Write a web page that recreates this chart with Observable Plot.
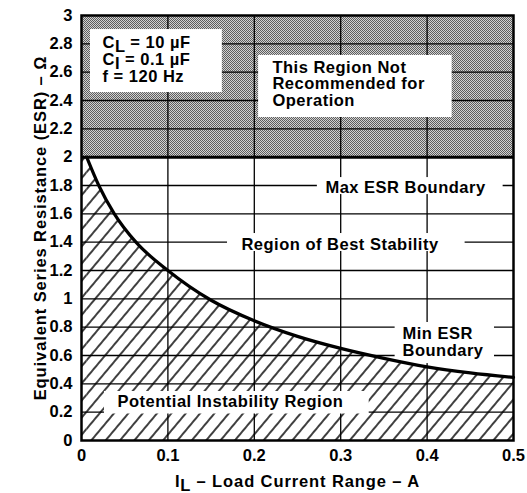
<!DOCTYPE html>
<html><head><meta charset="utf-8">
<script src="https://cdn.jsdelivr.net/npm/d3@7"></script>
<script src="https://cdn.jsdelivr.net/npm/@observablehq/plot@0.6"></script>
<style>
body{margin:0;background:#fff}
#chart svg{display:block}
</style>
</head><body><div id="chart"></div>
<script>
// ---- data ----
const loadCurrent = [0, 0.006, 0.02, 0.038, 0.063, 0.1, 0.15, 0.2, 0.25, 0.3, 0.35, 0.4, 0.45, 0.5];
const minEsr      = [2.0, 2.0, 1.8, 1.6, 1.4, 1.2, 0.99, 0.845, 0.735, 0.65, 0.58, 0.52, 0.477, 0.445];
const maxEsr = 2;
const esrTop = 3;
const xTicks = [0, 0.1, 0.2, 0.3, 0.4, 0.5];
const yTicks = [0, 0.2, 0.4, 0.6, 0.8, 1, 1.2, 1.4, 1.6, 1.8, 2, 2.2, 2.4, 2.6, 2.8, 3];
const conditions = ["C_L = 10 µF", "C_I = 0.1 µF", "f = 120 Hz"];
const notRecommended = ["This Region Not", "Recommended for", "Operation"];
const xTitle = "I_L – Load Current Range – A";
const yTitle = "Equivalent Series Resistance (ESR) – Ω";

// ---- annotation layout (data units) ----
const boxes = [
  {x1: 0.0104, x2: 0.163, y1: 2.456, y2: 2.901},   // conditions
  {x1: 0.205, x2: 0.429, y1: 2.280, y2: 2.718},    // not recommended
  {x1: 0.273, x2: 0.488, y1: 1.736, y2: 1.856},    // max esr
  {x1: 0.169, x2: 0.444, y1: 1.334, y2: 1.461},    // best stability
  {x1: 0.363, x2: 0.478, y1: 0.543, y2: 0.833},    // min esr
  {x1: 0.0266, x2: 0.333, y1: 0.187, y2: 0.346}    // potential instability
];
const labels = [
  {x: 0.0243, y: 2.774, t: conditions[0], a: "start"},
  {x: 0.0243, y: 2.654, t: conditions[1], a: "start"},
  {x: 0.0243, y: 2.534, t: conditions[2], a: "start"},
  {x: 0.221, y: 2.597, t: notRecommended[0], a: "start"},
  {x: 0.221, y: 2.481, t: notRecommended[1], a: "start"},
  {x: 0.221, y: 2.364, t: notRecommended[2], a: "start"},
  {x: 0.375, y: 1.7505, t: "Max ESR Boundary", a: "middle"},
  {x: 0.2992, y: 1.348, t: "Region of Best Stability", a: "middle"},
  {x: 0.3715, y: 0.72, t: "Min ESR", a: "start"},
  {x: 0.3715, y: 0.593, t: "Boundary", a: "start"},
  {x: 0.0417, y: 0.233, t: "Potential Instability Region", a: "start"}
];
const titles = [
  {x: 0.25, y: -0.29, t: xTitle, r: 0},
  {x: -0.0475, y: 1.5, t: yTitle, r: -90}
];

const curve = loadCurrent.map((x, i) => ({x, y: minEsr[i]}));
const font = "'Liberation Sans', Arial, Helvetica, sans-serif";
const textStyle = {fontSize: 16.5, fontWeight: "bold", fill: "black"};

const chart = Plot.plot({
  width: 527,
  height: 493,
  marginLeft: 81,
  marginRight: 14,
  marginTop: 15,
  marginBottom: 53,
  style: {fontFamily: font, fontSize: "16.5px", fontWeight: "bold", color: "black", background: "white", overflow: "visible"},
  x: {domain: [0, 0.5], ticks: xTicks, tickSize: 0, tickPadding: 9, tickFormat: d3.format("~g"), label: null},
  y: {domain: [0, esrTop], ticks: yTicks, tickSize: 0, tickPadding: 9, tickFormat: d3.format("~g"), label: null},
  marks: [
    Plot.rect([{y1: maxEsr, y2: esrTop}], {x1: 0, x2: 0.5, y1: "y1", y2: "y2", fill: "url(#checker)"}),
    Plot.areaY(curve.slice(1), {x: "x", y: "y", fill: "url(#hatch)", curve: "monotone-x"}),
    Plot.areaY(curve.slice(0, 2), {x: "x", y: "y", fill: "url(#hatch)"}),
    Plot.ruleX(xTicks.filter(d => d > 0 && d < 0.5), {stroke: "black", strokeWidth: 1.3}),
    Plot.ruleY(yTicks.filter(d => d > 0 && d < esrTop && d !== maxEsr), {stroke: "black", strokeWidth: 1.3}),
    Plot.rect(boxes, {x1: "x1", x2: "x2", y1: "y1", y2: "y2", fill: "white"}),
    Plot.ruleY([maxEsr], {stroke: "black", strokeWidth: 3}),
    Plot.line(curve.slice(1), {x: "x", y: "y", stroke: "black", strokeWidth: 3.2, curve: "monotone-x"}),
    Plot.frame({stroke: "black", strokeWidth: 2.5}),
    Plot.text(labels, {x: "x", y: "y", text: "t", textAnchor: "start", lineAnchor: "bottom", ...textStyle, filter: d => d.a === "start"}),
    Plot.text(labels, {x: "x", y: "y", text: "t", textAnchor: "middle", lineAnchor: "bottom", ...textStyle, filter: d => d.a === "middle"}),
    Plot.text(titles, {x: "x", y: "y", text: "t", rotate: "r", lineAnchor: "middle", ...textStyle})
  ]
});

// pattern definitions
const defs = d3.create("svg:defs");
const chk = defs.append("pattern").attr("id", "checker").attr("patternUnits", "userSpaceOnUse").attr("width", 2).attr("height", 2);
chk.append("rect").attr("width", 2).attr("height", 2).attr("fill", "#d2d2d2");
chk.append("rect").attr("width", 1).attr("height", 1).attr("fill", "#5e5e5e");
chk.append("rect").attr("x", 1).attr("y", 1).attr("width", 1).attr("height", 1).attr("fill", "#5e5e5e");
const hatch = defs.append("pattern").attr("id", "hatch").attr("patternUnits", "userSpaceOnUse")
  .attr("width", 11).attr("height", 11).attr("patternTransform", "rotate(40)");
hatch.append("rect").attr("width", 11).attr("height", 11).attr("fill", "white");
hatch.append("line").attr("x1", 1).attr("y1", 0).attr("x2", 1).attr("y2", 11).attr("stroke", "black").attr("stroke-width", 1.5);
chart.insertBefore(defs.node(), chart.firstChild);

// letter spacing as in the reference lettering
d3.select(chart).selectAll("text").each(function() {
  const t = this.textContent;
  if (t === xTitle || t === yTitle) this.setAttribute("letter-spacing", "0.9px");
  else if (labels.some(l => l.t === t)) this.setAttribute("letter-spacing", "0.5px");
});

// subscripts (X_Y -> X with subscript Y)
d3.select(chart).selectAll("text").each(function() {
  const el = this;
  if (el.querySelector("tspan")) return;
  const t = el.textContent;
  const m = t.match(/^(.*?)_(\w)(.*)$/);
  if (!m) return;
  el.textContent = "";
  const s = d3.select(el);
  s.append("tspan").text(m[1]);
  s.append("tspan").attr("dy", "0.25em").text(m[2]);
  s.append("tspan").attr("dy", "-0.25em").text(m[3]);
});

document.getElementById("chart").appendChild(chart);
</script>
</body></html>
